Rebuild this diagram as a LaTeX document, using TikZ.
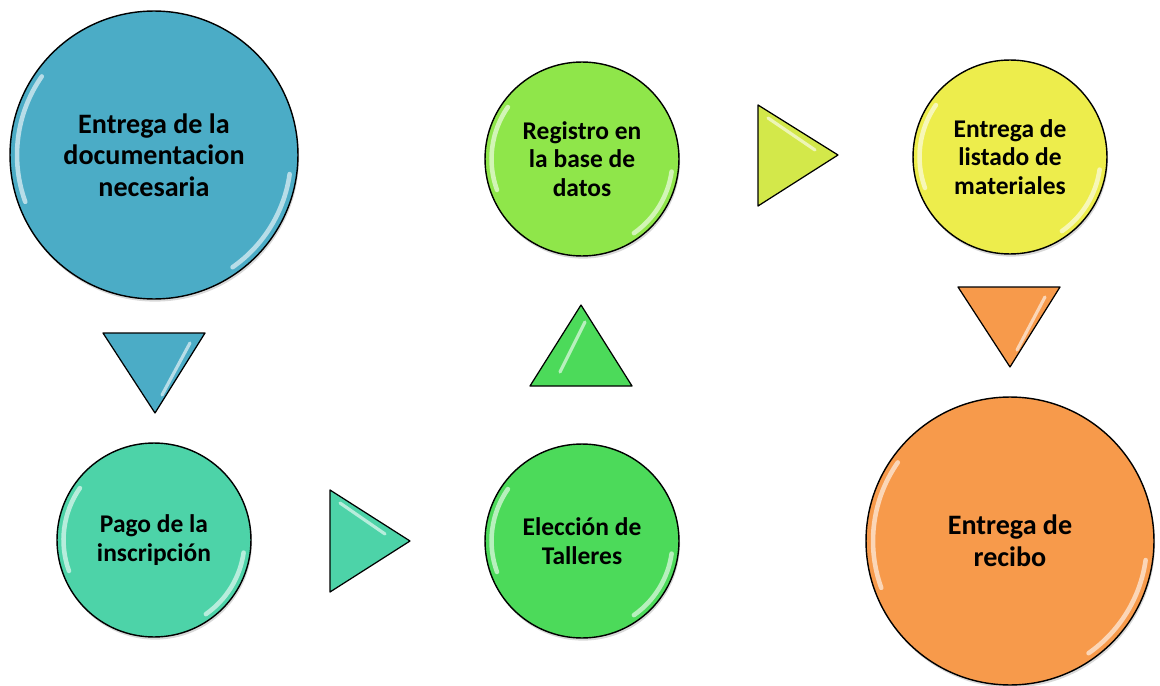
\documentclass[tikz,border=0pt]{standalone}
\usepackage{fontspec}
\setmainfont{Carlito}
\usetikzlibrary{shadows}
\definecolor{azul}{HTML}{4BACC6}
\definecolor{turquesa}{HTML}{4DD3A8}
\definecolor{verde}{HTML}{4CDA5A}
\definecolor{verdeclaro}{HTML}{8FE64A}
\definecolor{amarillo}{HTML}{EDED4C}
\definecolor{lima}{HTML}{D3E84A}
\definecolor{naranja}{HTML}{F79A4B}
\tikzset{
  paso/.style={circle, draw=black, line width=0.8pt, align=center, inner sep=0pt,
    drop shadow={opacity=0.3, shadow xshift=0.6pt, shadow yshift=-1.5pt}},
  grande/.style={paso, minimum size=5.76cm, font=\fontsize{16}{18}\selectfont\bfseries},
  chico/.style={paso, minimum size=3.88cm, font=\fontsize{14.5}{16.3}\selectfont\bfseries},
  flecha/.style={draw=black, line width=0.7pt, line join=round},
  brillo/.style={white, opacity=0.6, line width=2.6pt, line cap=round}
}
\begin{document}
\begin{tikzpicture}[x=0.02cm,y=-0.02cm]
\useasboundingbox (0,0) rectangle (1160,686);
% circulos
\node[grande, fill=azul] (doc) at (154,155) {Entrega de la\\documentacion\\necesaria};
\node[chico, fill=turquesa] (pago) at (154,540) {Pago de la\\inscripción};
\node[chico, fill=verde] (eleccion) at (582,541) {Elección de\\Talleres};
\node[chico, fill=verdeclaro] (registro) at (582,159) {Registro en\\la base de\\datos};
\node[chico, fill=amarillo] (listado) at (1010,157) {Entrega de\\listado de\\materiales};
\node[grande, fill=naranja] (recibo) at (1010,541) {Entrega de\\recibo};
% brillos
\foreach \n/\r in {doc/2.74cm, recibo/2.74cm, pago/1.81cm, eleccion/1.81cm, registro/1.81cm, listado/1.81cm}{
  \draw[brillo] ([shift={(145:\r)}]\n.center) arc[start angle=145, end angle=200, radius=\r];
  \draw[brillo] ([shift={(-8:\r)}]\n.center) arc[start angle=-8, end angle=-55, radius=\r];
}
% triangulos
\draw[flecha, fill=azul] (103,333) -- (205,333) -- (155,413) -- cycle;
\draw[flecha, fill=turquesa] (330,490) -- (410,541) -- (330,592) -- cycle;
\draw[flecha, fill=verde] (530,386) -- (581,305) -- (632,386) -- cycle;
\draw[flecha, fill=lima] (758,105) -- (838,155) -- (758,206) -- cycle;
\draw[flecha, fill=naranja] (958,287) -- (1060,287) -- (1010,367) -- cycle;
\draw[brillo, line width=1.8pt] (190,343) -- (162,395);
\draw[brillo, line width=1.8pt] (340,503) -- (385,534);
\draw[brillo, line width=1.8pt] (585,322) -- (560,372);
\draw[brillo, line width=1.8pt] (768,118) -- (815,150);
\draw[brillo, line width=1.8pt] (1045,297) -- (1017,350);
\end{tikzpicture}
\end{document}
